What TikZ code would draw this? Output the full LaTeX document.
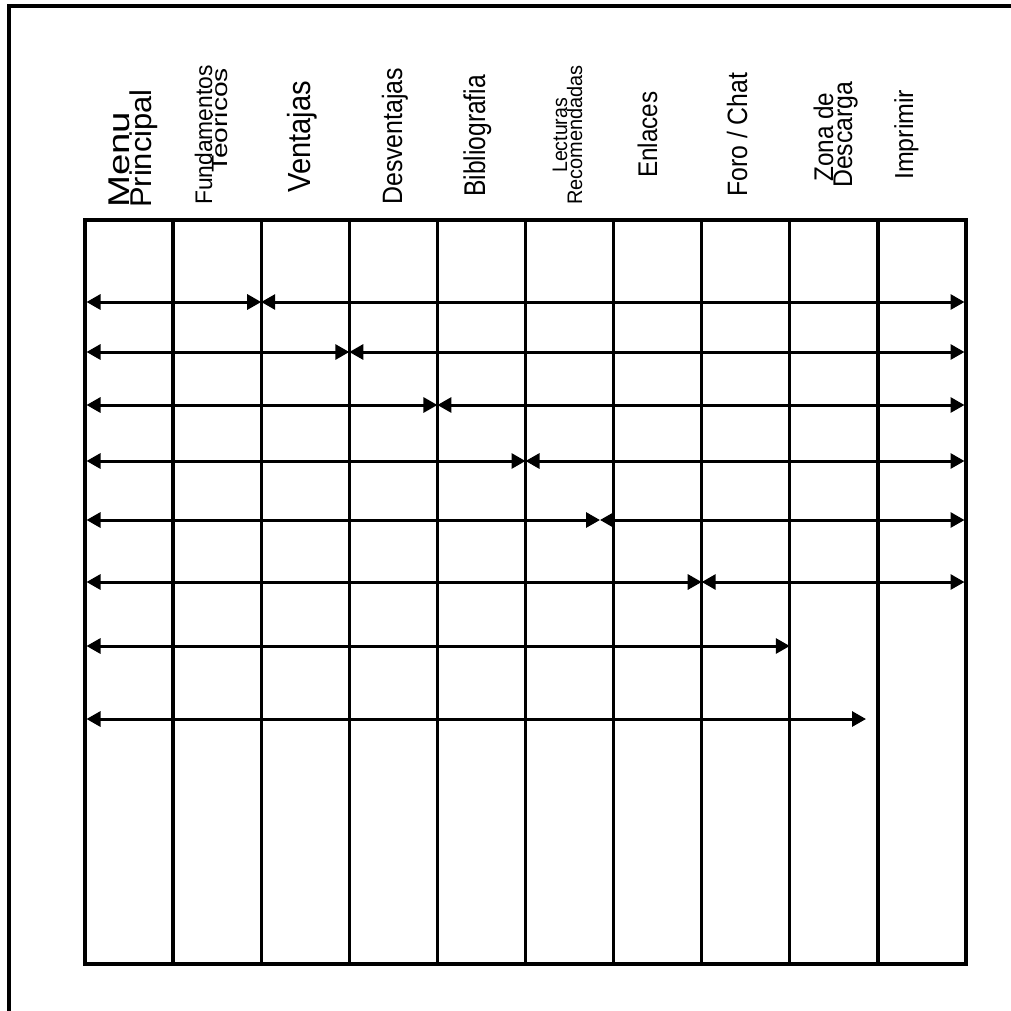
\documentclass[tikz,border=0pt]{standalone}
\usepackage{fontspec}
\setmainfont{Liberation Sans}
\usepackage{graphicx}
\usetikzlibrary{arrows.meta}
\begin{document}
\begin{tikzpicture}[x=1pt,y=-1pt,
  frame/.style={line width=3.2pt},
  gridline/.style={line width=3.3pt},
  link/.style={line width=3pt, {Triangle[length=14pt,width=15pt]}-{Triangle[length=14pt,width=15pt]}},
  lbl/.style={rotate=90, inner sep=0pt, anchor=base west}]
\useasboundingbox (0,0) rectangle (1011,1010);
% outer frame (left and top edges)
\coordinate (fb) at (9,1014);
\coordinate (fc) at (9,6);
\coordinate (fr) at (1015,6);
\draw[frame] (fb) -- (fc) -- (fr);
% grid
\coordinate (gtl) at (85,220);
\coordinate (gbr) at (966,964);
\draw[gridline] (gtl) rectangle (gbr);
\foreach \i in {1,...,9}{
  \coordinate (c\i t) at ({85+88.1*\i},220);
  \coordinate (c\i b) at ({85+88.1*\i},964);
  \draw[gridline] (c\i t) -- (c\i b);
}
% labels
\node[lbl, font=\fontsize{30}{30}\selectfont] (menu) at (129,208) {\scalebox{1.28}[1]{Menu}};
\node[lbl, font=\fontsize{30}{30}\selectfont] (principal) at (151,208) {\scalebox{1.03}[1]{Principal}};
\node[lbl, font=\fontsize{24}{24}\selectfont] (fund) at (212,205) {\scalebox{0.95}[1]{Fundamentos}};
\node[lbl, font=\fontsize{22}{22}\selectfont] (teor) at (227,173) {\scalebox{1.28}[1]{Teoricos}};
\node[lbl, font=\fontsize{32}{32}\selectfont] (vent) at (310,193) {\scalebox{0.91}[1]{Ventajas}};
\node[lbl, font=\fontsize{28}{28}\selectfont] (desv) at (402,205) {\scalebox{0.89}[1]{Desventajas}};
\node[lbl, font=\fontsize{30}{30}\selectfont] (bibl) at (485,197) {\scalebox{0.82}[1]{Bibliografia}};
\node[lbl, font=\fontsize{21}{21}\selectfont] (lect) at (567,173) {\scalebox{0.93}[1]{Lecturas}};
\node[lbl, font=\fontsize{21}{21}\selectfont] (recom) at (582,205) {\scalebox{0.95}[1]{Recomendadas}};
\node[lbl, font=\fontsize{27}{27}\selectfont] (enl) at (657,178) {\scalebox{0.90}[1]{Enlaces}};
\node[lbl, font=\fontsize{28}{28}\selectfont] (foro) at (747,197) {\scalebox{0.885}[1]{Foro / Chat}};
\node[lbl, font=\fontsize{27}{27}\selectfont] (zona) at (833,182) {\scalebox{0.90}[1]{Zona de}};
\node[lbl, font=\fontsize{27}{27}\selectfont] (desc) at (852,188) {\scalebox{0.92}[1]{Descarga}};
\node[lbl, font=\fontsize{26}{26}\selectfont] (impr) at (913,180) {\scalebox{0.96}[1]{Imprimir}};
% arrow end points
\foreach \r/\y in {1/302,2/352,3/405,4/461,5/520,6/582,7/646,8/719}{
  \coordinate (r\r L) at (86.5,\y);
  \coordinate (r\r R) at (964.5,\y);
}
\coordinate (r1M) at (261.2,302);
\coordinate (r2M) at (349.3,352);
\coordinate (r3M) at (437.4,405);
\coordinate (r4M) at (525.5,461);
\coordinate (r5M) at (600,520);
\coordinate (r6M) at (701.7,582);
\coordinate (r7E) at (789.8,646);
\coordinate (r8E) at (866,719);
\foreach \r in {1,...,6}{
  \draw[link] (r\r L) -- (r\r M);
  \draw[link] (r\r M) -- (r\r R);
}
\draw[link] (r7L) -- (r7E);
\draw[link] (r8L) -- (r8E);
\end{tikzpicture}
\end{document}
